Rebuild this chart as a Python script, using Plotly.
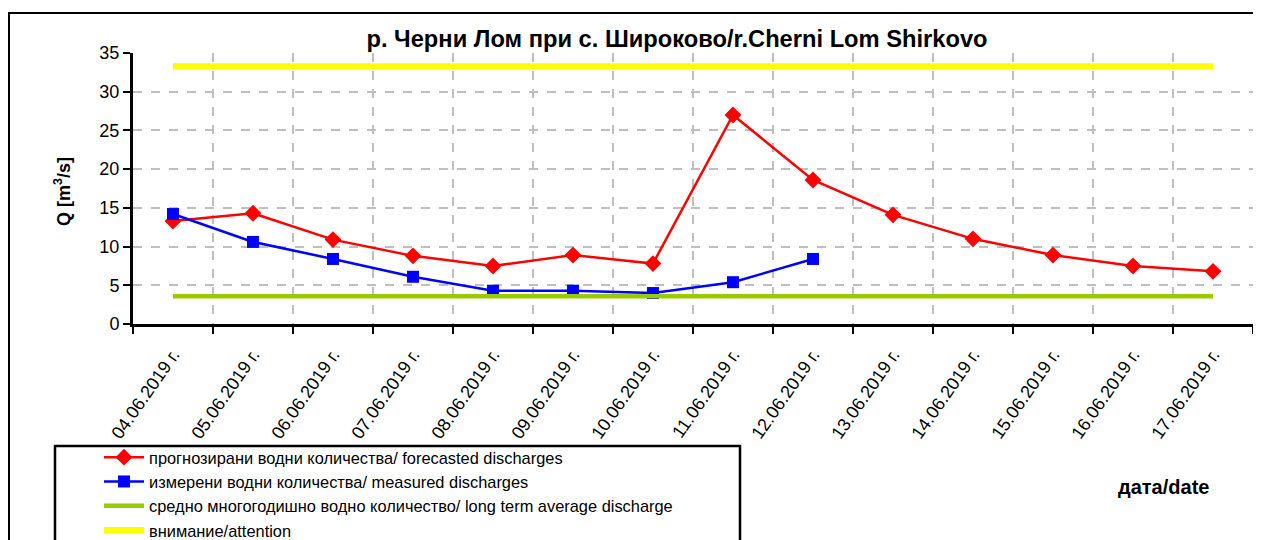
import plotly.graph_objects as go

dates = ["04.06.2019 г.", "05.06.2019 г.", "06.06.2019 г.", "07.06.2019 г.", "08.06.2019 г.",
         "09.06.2019 г.", "10.06.2019 г.", "11.06.2019 г.", "12.06.2019 г.", "13.06.2019 г.",
         "14.06.2019 г.", "15.06.2019 г.", "16.06.2019 г.", "17.06.2019 г."]
forecast = [13.3, 14.3, 10.9, 8.8, 7.5, 8.9, 7.8, 27.0, 18.6, 14.1, 11.0, 8.9, 7.5, 6.8]
measured = [14.2, 10.6, 8.4, 6.1, 4.3, 4.3, 4.0, 5.4, 8.4]
long_term = [3.6] * len(dates)
attention = [33.3] * len(dates)
y_ticks = [0, 5, 10, 15, 20, 25, 30, 35]

S = 8  # page body offset of the figure in the screenshot
W, H = 1261 - S, 540 - S
L, R, T, B = 133 - S, 8, 53 - S, 216
pw, ph = W - L - R, H - T - B

def px(x):  # screen x -> paper
    return (x - S - L) / pw

def py(y):  # screen y -> paper
    return (H - B - (y - S)) / ph

def cx(x):  # screen x -> container
    return (x - S) / W

def cy(y):  # screen y -> container
    return 1 - (y - S) / H

FONT = "Liberation Sans, Arial, sans-serif"

fig = go.Figure()
fig.add_trace(go.Scatter(x=dates, y=forecast, mode="lines+markers",
                         name="прогнозирани водни количества/ forecasted discharges",
                         line=dict(color="#FF0000", width=2.5),
                         marker=dict(symbol="diamond", size=13, color="#FF0000"),
                         legendgroup="a"))
fig.add_trace(go.Scatter(x=dates[:len(measured)], y=measured, mode="lines+markers",
                         name="измерени водни количества/ measured discharges",
                         line=dict(color="#0000FF", width=2.5),
                         marker=dict(symbol="square", size=12, color="#0000FF"),
                         legendgroup="b"))
fig.add_trace(go.Scatter(x=dates, y=long_term, mode="lines",
                         name="средно многогодишно водно количество/ long term average discharge",
                         line=dict(color="#99CC00", width=4.5),
                         legendgroup="c"))
fig.add_trace(go.Scatter(x=dates, y=attention, mode="lines",
                         name="внимание/attention",
                         line=dict(color="#FFFF00", width=6),
                         legendgroup="d"))

fig.update_layout(
    width=W, height=H,
    margin=dict(l=L, r=R, t=T, b=B, autoexpand=False),
    paper_bgcolor="white", plot_bgcolor="white",
    font=dict(family=FONT, color="black", size=15),
    title=dict(text="<b>р. Черни Лом при с. Широково/r.Cherni Lom Shirkovo</b>",
               x=cx(677), xref="container", xanchor="center",
               y=cy(39), yref="container", yanchor="middle",
               font=dict(size=23.7, family=FONT, color="black")),
    showlegend=True,
    legend=dict(x=cx(99), y=cy(440), xref="container", yref="container",
                xanchor="left", yanchor="top",
                bgcolor="rgba(0,0,0,0)", borderwidth=0,
                font=dict(size=16.4, family=FONT), traceorder="grouped",
                tracegroupgap=0, itemwidth=40),
    xaxis=dict(type="category", tickson="boundaries", tickangle=-55, automargin=False,
               showline=True, linecolor="black", linewidth=3,
               ticks="outside", ticklen=7, tickwidth=2, tickcolor="black",
               ticklabelstandoff=10,
               showgrid=True, gridcolor="#BFBFBF", gridwidth=2, griddash="dash",
               tickfont=dict(size=18, family=FONT), range=[-0.5, 13.5]),
    yaxis=dict(range=[0, 35], tickvals=y_ticks, automargin=False,
               showline=True, linecolor="black", linewidth=3,
               ticks="outside", ticklen=7, tickwidth=2, tickcolor="black",
               showgrid=True, gridcolor="#BFBFBF", gridwidth=2, griddash="dash",
               zeroline=False, tickfont=dict(size=18, family=FONT)),
)

fig.add_annotation(text="<b>Q [m<sup>3</sup>/s]</b>", xref="paper", yref="paper",
                   x=px(63), y=py(192), xanchor="center", yanchor="middle",
                   textangle=-90, showarrow=False,
                   font=dict(size=18, family=FONT))
fig.add_annotation(text="<b>дата/date</b>", xref="paper", yref="paper",
                   x=px(1163), y=py(487), xanchor="center", yanchor="middle",
                   showarrow=False, font=dict(size=20, family=FONT))
# outer chart frame
fig.add_shape(type="rect", xref="paper", yref="paper",
              x0=px(9), x1=px(1254), y0=py(600), y1=py(13),
              line=dict(color="black", width=2), layer="below")
# legend frame
fig.add_shape(type="rect", xref="paper", yref="paper",
              x0=px(55), x1=px(740), y0=py(600), y1=py(446),
              line=dict(color="black", width=2.5), fillcolor="white", layer="below")

fig.write_html("out.html")
